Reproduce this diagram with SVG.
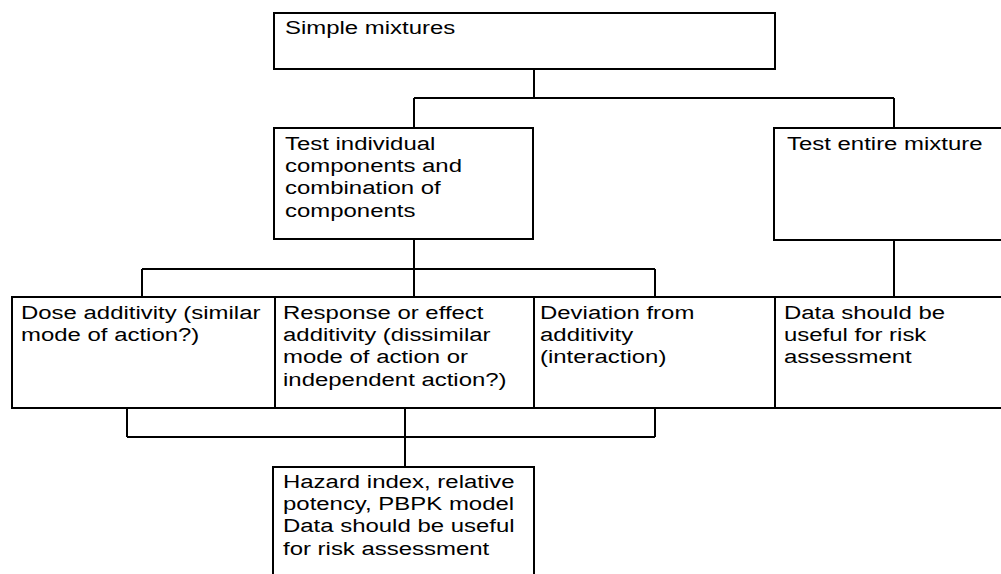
<svg xmlns="http://www.w3.org/2000/svg" width="1001" height="574" viewBox="0 0 1001 574">
<style>
.box{fill:#fff;stroke:#000;stroke-width:2}
.ln{fill:none;stroke:#000;stroke-width:2}
.t{font-family:"Liberation Sans",Arial,sans-serif;font-size:19px;fill:#000}
</style>
<rect width="1001" height="574" fill="#fff"/>
<g id="connectors" class="ln">
<path d="M534 69V98M414 98H894M414 98V128M894 98V128"/>
<path d="M414 239V269M142 269H655M142 269V297M414 269V297M655 269V297"/>
<path d="M894 240V297"/>
<path d="M127 408V437M405 408V437M655 408V437M127 437H655M405 437V467"/>
</g>
<g id="simple">
<rect class="box" x="274" y="13" width="501" height="56"/>
<text class="t" transform="translate(285,34) scale(1.26,1)">Simple mixtures</text>
</g>
<g id="individual">
<rect class="box" x="274" y="128" width="259" height="111"/>
<text class="t" transform="translate(285,149.5) scale(1.26,1)"><tspan x="0" y="0">Test individual</tspan><tspan x="0" y="22.5">components and</tspan><tspan x="0" y="45">combination of</tspan><tspan x="0" y="67.5">components</tspan></text>
</g>
<g id="entire">
<rect class="box" x="774" y="128" width="240" height="112"/>
<text class="t" transform="translate(787,149.5) scale(1.26,1)">Test entire mixture</text>
</g>
<g id="dose">
<rect class="box" x="12" y="297" width="263" height="111"/>
<text class="t" transform="translate(21,318.5) scale(1.26,1)"><tspan x="0" y="0">Dose additivity (similar</tspan><tspan x="0" y="22.5">mode of action?)</tspan></text>
</g>
<g id="response">
<rect class="box" x="275" y="297" width="259" height="111"/>
<text class="t" transform="translate(283,318.5) scale(1.26,1)"><tspan x="0" y="0">Response or effect</tspan><tspan x="0" y="22.5">additivity (dissimilar</tspan><tspan x="0" y="45">mode of action or</tspan><tspan x="0" y="67.5">independent action?)</tspan></text>
</g>
<g id="deviation">
<rect class="box" x="534" y="297" width="241" height="111"/>
<text class="t" transform="translate(540,318.5) scale(1.26,1)"><tspan x="0" y="0">Deviation from</tspan><tspan x="0" y="22.5">additivity</tspan><tspan x="0" y="45">(interaction)</tspan></text>
</g>
<g id="data">
<rect class="box" x="775" y="297" width="240" height="111"/>
<text class="t" transform="translate(784,318.5) scale(1.26,1)"><tspan x="0" y="0">Data should be</tspan><tspan x="0" y="22.5">useful for risk</tspan><tspan x="0" y="45">assessment</tspan></text>
</g>
<g id="hazard">
<rect class="box" x="273" y="467" width="261" height="120"/>
<text class="t" transform="translate(283,487.5) scale(1.26,1)"><tspan x="0" y="0">Hazard index, relative</tspan><tspan x="0" y="22.5">potency, PBPK model</tspan><tspan x="0" y="45">Data should be useful</tspan><tspan x="0" y="67.5">for risk assessment</tspan></text>
</g>
</svg>
